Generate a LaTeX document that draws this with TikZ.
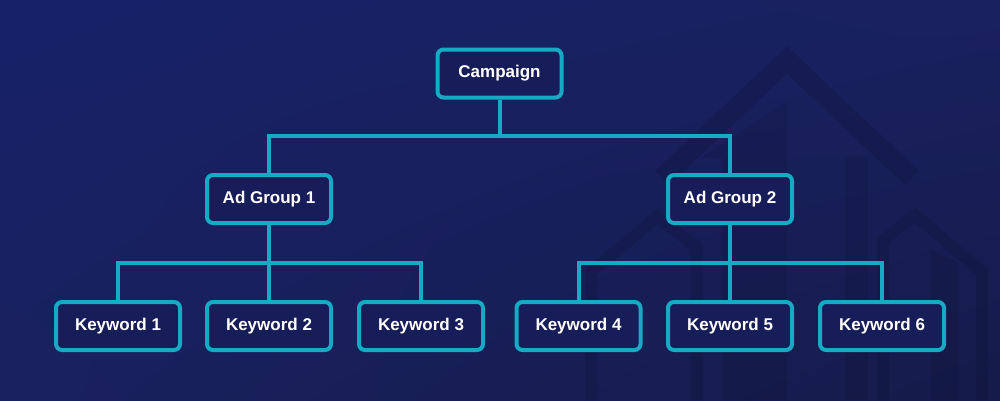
\documentclass[tikz,border=0pt]{standalone}
\usepackage{fontspec}
\setmainfont{Liberation Sans}
\usetikzlibrary{shadings}
\definecolor{bgA}{HTML}{172168}
\definecolor{bgB}{HTML}{19215F}
\definecolor{bgC}{HTML}{151B4A}
\definecolor{cyanline}{HTML}{17AAC4}
\definecolor{boxfill}{HTML}{171D58}
\tikzset{
  treebox/.style={draw=cyanline, line width=4pt, fill=boxfill, rounded corners=6pt,
    minimum width=124pt, minimum height=48pt, inner sep=0pt,
    text=white, font=\bfseries\fontsize{17}{19}\selectfont},
  link/.style={draw=cyanline, line width=4pt},
  deco/.style={draw=black, draw opacity=0.10, line cap=butt, line join=miter},
  decofill/.style={fill=black, fill opacity=0.08}
}
\begin{document}
\begin{tikzpicture}[x=1pt,y=-1pt]
\useasboundingbox (0,0) rectangle (1000,400);
\shade[upper left=bgA, upper right=bgB, lower left=bgB, lower right=bgC] (0,0) rectangle (1000,400);
% background decoration
\begin{scope}
\clip (0,0) rectangle (1000,400);
\draw[deco, line width=20pt] (662,178) -- (787,60) -- (912,178);
\fill[decofill] (787,102) -- (700,158) -- (722,158) -- (722,400) -- (787,400) -- cycle;
\fill[decofill] (845,157) rectangle (868,400);
\draw[deco, line width=12pt] (591,400) -- (591,272) -- (657,217) -- (697,247) -- (697,400);
\draw[deco, line width=12pt] (883,400) -- (883,240) -- (915,215) -- (982,272) -- (982,400);
\fill[decofill] (930,400) -- (930,250) -- (958,262) -- (958,400) -- cycle;
\end{scope}
% nodes
\node[treebox] (camp) at (499.5,73.5) {Campaign};
\node[treebox] (ag1) at (269,199) {Ad Group 1};
\node[treebox] (ag2) at (730,199) {Ad Group 2};
\node[treebox] (k1) at (118,326) {Keyword 1};
\node[treebox] (k2) at (269,326) {Keyword 2};
\node[treebox] (k3) at (421,326) {Keyword 3};
\node[treebox] (k4) at (578.5,326) {Keyword 4};
\node[treebox] (k5) at (730,326) {Keyword 5};
\node[treebox] (k6) at (882,326) {Keyword 6};
% bus coordinates
\coordinate (b0) at (499.5,136);
\coordinate (b1) at (269,263);
\coordinate (b2) at (730,263);
% connectors
\draw[link] (camp.south) -- (b0);
\draw[link] (b0) -| (ag1.north);
\draw[link] (b0) -| (ag2.north);
\draw[link] (ag1.south) -- (k2.north);
\draw[link] (b1) -| (k1.north);
\draw[link] (b1) -| (k3.north);
\draw[link] (ag2.south) -- (k5.north);
\draw[link] (b2) -| (k4.north);
\draw[link] (b2) -| (k6.north);
\end{tikzpicture}
\end{document}
